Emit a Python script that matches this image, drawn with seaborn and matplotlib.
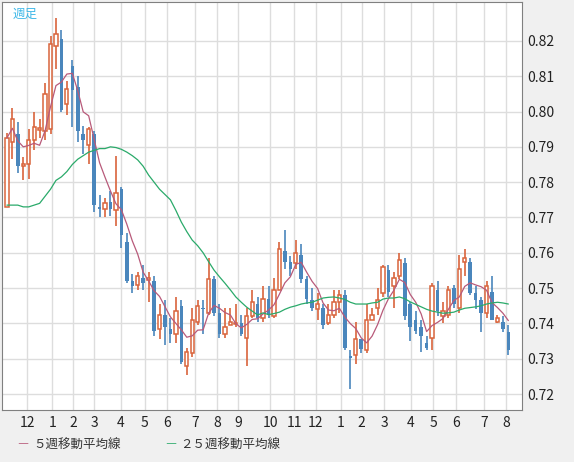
import numpy as np
import pandas as pd
import matplotlib
matplotlib.use("Agg")
import matplotlib.pyplot as plt
import seaborn as sns

# weekly candles
opens = [0.773,0.7915,0.7935,0.7845,0.785,0.792,0.7948,0.7945,0.795,0.8185,0.8205,0.802,0.813,0.807,0.7935,0.7905,0.7935,0.773,0.7725,0.7745,0.772,0.778,0.763,0.752,
         0.751,0.753,0.7522,0.752,0.7385,0.7425,0.7385,0.737,0.745,0.728,0.7315,0.7405,0.7445,0.743,0.7525,0.743,0.737,0.7395,0.7398,0.740,0.736,0.742,0.7455,
         0.7415,0.747,0.742,0.7495,0.7605,0.7575,0.757,0.7595,0.7525,0.7465,0.744,0.7445,0.740,0.7425,0.746,0.748,0.7307,0.731,0.7355,0.7325,0.741,0.7445,0.7485,
         0.755,0.7505,0.7535,0.757,0.7455,0.741,0.739,0.7345,0.736,0.7495,0.742,0.7425,0.750,0.7445,0.7575,0.7575,0.7485,0.7465,0.743,0.749,0.7405,0.7405,0.7375]
closes = [0.7925,0.798,0.7845,0.785,0.792,0.7955,0.7952,0.805,0.819,0.822,0.8005,0.8065,0.806,0.7945,0.792,0.795,0.7735,0.7725,0.774,0.7725,0.777,0.765,0.752,0.7505,
          0.7535,0.7515,0.7528,0.738,0.7425,0.739,0.737,0.7435,0.729,0.732,0.741,0.745,0.744,0.7525,0.743,0.737,0.739,0.7405,0.7402,0.737,0.742,0.746,0.7415,
          0.747,0.7425,0.7495,0.761,0.7575,0.7555,0.760,0.7525,0.747,0.7445,0.7455,0.7395,0.7425,0.746,0.748,0.733,0.7303,0.7355,0.7328,0.741,0.7425,0.7465,0.756,
          0.749,0.753,0.758,0.742,0.739,0.738,0.7365,0.733,0.7505,0.7435,0.7435,0.7495,0.7455,0.7555,0.7585,0.7485,0.7465,0.743,0.7505,0.741,0.7415,0.7385,0.7325]
highs = [0.794,0.801,0.797,0.787,0.795,0.800,0.798,0.808,0.8215,0.8265,0.823,0.8085,0.8145,0.810,0.796,0.7955,0.7945,0.7765,0.7755,0.7775,0.7875,0.7785,0.7655,0.754,
         0.7545,0.7565,0.7545,0.7535,0.7455,0.7465,0.7415,0.7475,0.7465,0.733,0.7445,0.7465,0.7465,0.7585,0.7535,0.7455,0.7445,0.7445,0.7455,0.7425,0.7445,0.7495,0.7475,
         0.7505,0.7505,0.753,0.763,0.7665,0.759,0.7635,0.7625,0.7535,0.750,0.7485,0.7455,0.7455,0.7495,0.7495,0.7495,0.7325,0.7405,0.7345,0.7455,0.7445,0.750,0.7565,
         0.7565,0.7545,0.760,0.7585,0.746,0.7435,0.741,0.7365,0.7515,0.752,0.746,0.7505,0.751,0.7595,0.761,0.7585,0.7505,0.7475,0.752,0.7535,0.7425,0.742,0.7395]
lows = [0.773,0.7865,0.7825,0.7805,0.781,0.789,0.7925,0.792,0.7935,0.812,0.800,0.799,0.7955,0.7915,0.788,0.785,0.7715,0.770,0.770,0.7705,0.7675,0.7615,0.7515,0.7485,
        0.7495,0.7495,0.746,0.7365,0.7355,0.734,0.7345,0.7345,0.7285,0.7255,0.7305,0.7395,0.737,0.7425,0.742,0.736,0.736,0.7395,0.739,0.7365,0.728,0.7415,0.7405,
        0.7405,0.7415,0.7415,0.7495,0.7555,0.7535,0.7555,0.7515,0.7455,0.7435,0.741,0.7385,0.7395,0.7415,0.743,0.7325,0.7215,0.7285,0.7315,0.7315,0.741,0.7425,0.7475,
        0.7475,0.7445,0.7525,0.741,0.735,0.737,0.732,0.7325,0.7325,0.742,0.740,0.7415,0.7445,0.743,0.7535,0.748,0.744,0.7375,0.7415,0.741,0.740,0.7375,0.731]
ma25 = [0.7735,0.7735,0.7735,0.773,0.773,0.7735,0.774,0.776,0.778,0.7805,0.7815,0.783,0.785,0.7865,0.7875,0.7885,0.789,0.7895,0.7895,0.790,0.7898,0.7893,0.7885,0.7875,
        0.7863,0.7845,0.782,0.780,0.778,0.7765,0.775,0.772,0.7687,0.766,0.7636,0.762,0.760,0.7575,0.7551,0.7532,0.7514,0.7495,0.7475,0.746,0.7446,0.7435,0.7424,
        0.743,0.7425,0.7428,0.7432,0.744,0.7446,0.745,0.7455,0.7458,0.746,0.7466,0.7472,0.7474,0.7475,0.7472,0.7468,0.746,0.7455,0.7455,0.7455,0.7458,0.746,0.7469,
        0.7472,0.7472,0.7475,0.747,0.7461,0.7454,0.7447,0.744,0.7435,0.7432,0.7429,0.743,0.7432,0.7438,0.7443,0.7445,0.7447,0.745,0.7455,0.7458,0.746,0.7458,0.7455]
month_pos = [3.7,8.3,12.1,16,20.9,25.3,29.4,34.5,38.5,42.4,48.3,52.7,56.7,61.3,65.1,69.2,74.1,78.2,82.4,87.5,91.6]
month_labels = ["12","1","2","3","4","5","6","7","8","9","10","11","12","1","2","3","4","5","6","7","8"]

df = pd.DataFrame({"open": opens, "high": highs, "low": lows, "close": closes, "ma25": ma25})
df["x"] = np.arange(len(df))
df["ma5"] = df["close"].rolling(5, min_periods=1).mean()

sns.set_style("white")
plt.rcParams["font.family"] = ["Noto Sans CJK JP", "DejaVu Sans"]

up_col = "#d9643c"
dn_col = "#4a86bc"

fig = plt.figure(figsize=(5.74, 4.62), dpi=100, facecolor="#f0f0f0")
ax = fig.add_axes([2/574, 52/462, 520/574, 408/462])
ax.set_facecolor("white")

for r in df.itertuples():
    up = r.close >= r.open
    col = up_col if up else dn_col
    top = max(r.open, r.close)
    bot = min(r.open, r.close)
    ax.vlines(r.x, top, r.high, color=col, lw=1.2, zorder=2)
    ax.vlines(r.x, r.low, bot, color=col, lw=1.2, zorder=2)
    h = max(top - bot, 0.0003)
    if up:
        ax.bar(r.x, h, bottom=bot, width=0.6, facecolor="white", edgecolor=col, lw=1.1, zorder=3)
    else:
        ax.bar(r.x, h, bottom=bot, width=0.65, color=col, lw=0, zorder=3)

sns.lineplot(data=df, x="x", y="ma5", ax=ax, color="#b85a7a", lw=0.9, zorder=4)
sns.lineplot(data=df, x="x", y="ma25", ax=ax, color="#2aaa6a", lw=0.9, zorder=4)

ax.set_xlim(-0.9, 94.5)
ax.set_ylim(0.7155, 0.8310)
ax.set_yticks(np.arange(0.72, 0.8201, 0.01))
ax.set_yticklabels(["%.2f" % v for v in np.arange(0.72, 0.8201, 0.01)])
ax.yaxis.tick_right()
ax.set_xticks(month_pos)
ax.set_xticklabels(month_labels)
ax.tick_params(length=0, labelsize=10, colors="#222222", pad=4)
ax.grid(True, color="#dddddd", lw=1)
ax.set_xlabel("")
ax.set_ylabel("")
for s in ax.spines.values():
    s.set_color("#808080")
ax.text(0.02, 0.985, "週足", transform=ax.transAxes, ha="left", va="top", color="#3fb8e8", fontsize=9)

ly = 1 - 445/462
fig.text(17/574, ly, "―", color="#b85a7a", fontsize=8, va="center")
fig.text(33/574, ly, "５週移動平均線", color="#333333", fontsize=9, va="center")
fig.text(165/574, ly, "―", color="#2aaa6a", fontsize=8, va="center")
fig.text(180/574, ly, "２５週移動平均線", color="#333333", fontsize=9, va="center")

fig.savefig("out.png", dpi=100, facecolor=fig.get_facecolor())
